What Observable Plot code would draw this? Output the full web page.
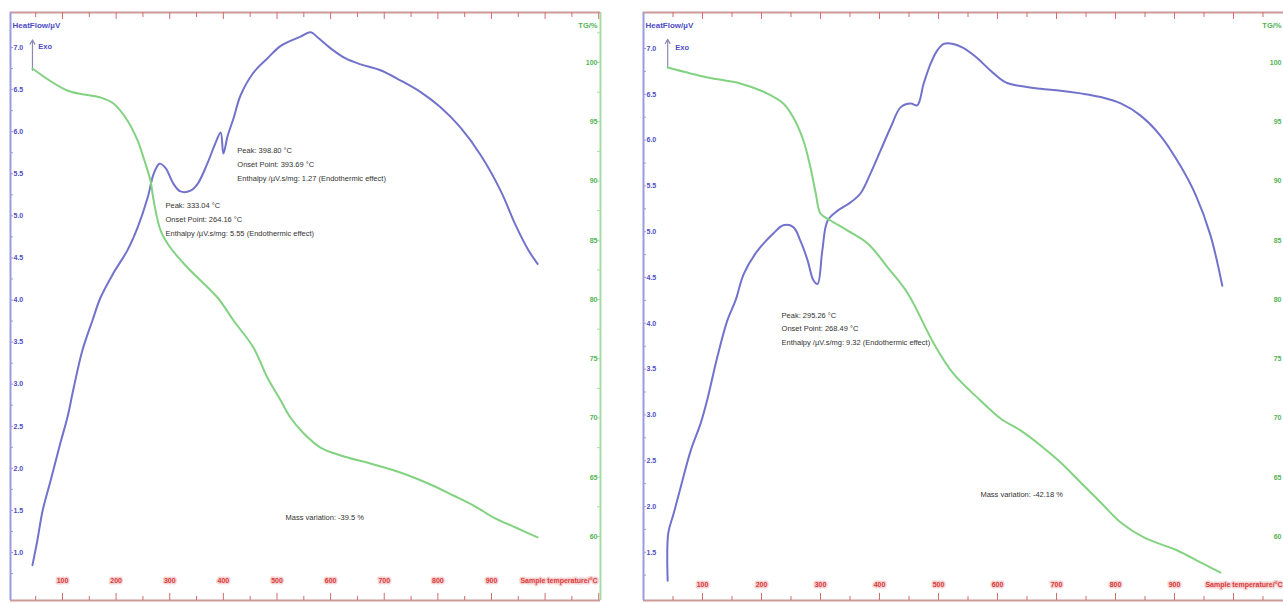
<!DOCTYPE html>
<html><head><meta charset="utf-8">
<script src="https://cdn.jsdelivr.net/npm/d3@7"></script>
<script src="https://cdn.jsdelivr.net/npm/@observablehq/plot@0.6"></script>
<style>
html,body{margin:0;padding:0;background:#fff;}
#wrap{position:relative;width:1283px;height:603px;overflow:hidden;background:#fff;}
#wrap svg{position:absolute;left:0;top:0;max-width:none;background:transparent;}
</style></head><body><div id="wrap"></div>
<script>
// ---------- data (temperature °C, heat flow µV, mass %) ----------
const L_DTA_T = [44,53,63,78,96,109,121,137,156,171,195,221,240,259,270,281,292,307,320,339,352,370,385,395,400,408,419,432,456,482,507,544,563,576,600,628,656,693,730,768,805,842,880,917,945,969,986];
const L_DTA_V = [0.85,1.14,1.50,1.86,2.30,2.60,2.96,3.40,3.76,4.03,4.32,4.59,4.86,5.22,5.50,5.62,5.57,5.38,5.29,5.30,5.38,5.62,5.86,5.99,5.74,5.95,6.16,6.43,6.70,6.87,7.02,7.13,7.18,7.12,6.99,6.87,6.80,6.73,6.61,6.47,6.29,6.05,5.72,5.30,4.89,4.59,4.43];
const L_TG_T = [44,109,171,195,221,240,251,264,270,283,301,333,389,419,456,482,507,525,550,581,619,674,730,786,829,870,904,945,986];
const L_TG_V = [99.49,97.64,97.05,96.54,95.11,93.42,91.98,90.04,88.35,85.82,84.39,82.70,80.17,78.23,75.95,73.42,71.48,70.04,68.69,67.51,66.84,66.16,65.40,64.39,63.46,62.53,61.60,60.76,59.92];
const R_DTA_T = [41,42,51,63,80,97,109,125,142,156,170,193,220,237,254,266,278,288,295,303,312,329,351,368,385,402,419,436,453,464,475,487,498,509,525,541,563,588,614,639,673,707,741,775,809,842,876,910,936,961,981];
const R_DTA_V = [1.19,1.71,1.92,2.21,2.61,2.91,3.19,3.63,4.03,4.25,4.54,4.79,4.98,5.07,5.05,4.90,4.69,4.47,4.43,4.79,5.12,5.23,5.32,5.42,5.64,5.89,6.14,6.36,6.40,6.38,6.62,6.84,6.98,7.05,7.05,7.01,6.91,6.76,6.63,6.59,6.56,6.54,6.51,6.47,6.40,6.27,6.05,5.72,5.40,4.96,4.41];
const R_TG_T = [41,109,164,210,237,254,271,283,292,300,317,346,380,414,448,492,525,571,605,639,673,707,741,775,809,848,905,944,978];
const R_TG_V = [99.58,98.73,98.23,97.38,96.54,95.36,93.42,91.14,88.95,87.26,86.67,85.82,84.73,82.70,80.51,76.29,73.76,71.48,69.96,68.95,67.68,66.24,64.56,62.87,61.18,59.92,58.82,57.81,56.96];

// ---------- tick labels ----------
const X_LABELS = [100,200,300,400,500,600,700,800,900];
const X_MAJOR = [100,200,300,400,500,600,700,800,900,1000,1100];
const X_MINOR = [50,150,250,350,450,550,650,750,850,950,1050];
const L_HF_TICKS = [7.0,6.5,6.0,5.5,5.0,4.5,4.0,3.5,3.0,2.5,2.0,1.5,1.0];
const R_HF_TICKS = [7.0,6.5,6.0,5.5,5.0,4.5,4.0,3.5,3.0,2.5,2.0,1.5];
const TG_TICKS = [100,95,90,85,80,75,70,65,60];

// ---------- texts ----------
const L_NOTES = [
  {t: 426, v: 5.86, text: "Peak: 398.80 °C\nOnset Point: 393.69 °C\nEnthalpy /µV.s/mg: 1.27 (Endothermic effect)"},
  {t: 292, v: 5.21, text: "Peak: 333.04 °C\nOnset Point: 264.16 °C\nEnthalpy /µV.s/mg: 5.55 (Endothermic effect)"}
];
const L_MASS = [{t: 516, v: 1.42, text: "Mass variation: -39.5 %"}];
const R_NOTES = [
  {t: 234, v: 4.17, text: "Peak: 295.26 °C\nOnset Point: 268.49 °C\nEnthalpy /µV.s/mg: 9.32 (Endothermic effect)"}
];
const R_MASS = [{t: 571, v: 2.13, text: "Mass variation: -42.18 %"}];
const L_EXO = {t: 44, v1: 6.73, v2: 7.09, tt: 55, tv: 7.01};
const R_EXO = {t: 41, v1: 6.79, v2: 7.10, tt: 54, tv: 7.01};

// ---------- panel layout ----------
const H = 603, MT = 12, MB = 3;
const LEFT = {width: 1283, mL: 10, mR: 683, tDom: [3.03, 1103.3], hfDom: [0.430, 7.416], tgDom: [54.60, 104.22],
  dta: [L_DTA_T, L_DTA_V], tg: [L_TG_T, L_TG_V], hfTicks: L_HF_TICKS, notes: L_NOTES, mass: L_MASS, exo: L_EXO,
  labelDy: -18, sampleDx: -3, tgDx: -3};
const RIGHT = {width: 1300, mL: 643, mR: 8, tDom: [0, 1100], hfDom: [0.974, 7.393], tgDom: [54.60, 104.22],
  dta: [R_DTA_T, R_DTA_V], tg: [R_TG_T, R_TG_V], hfTicks: R_HF_TICKS, notes: R_NOTES, mass: R_MASS, exo: R_EXO,
  labelDy: -14, sampleDx: -10, tgDx: -11};

const FONT = '"Liberation Sans", Arial, sans-serif';
const BLUE = "#7272cc", BLUE_AX = "#9b9be0", BLUE_TXT = "#4d4dc4";
const GREEN = "#82d282", GREEN_AX = "#a6dca6", GREEN_TXT = "#55b455";
const RED_AX = "#cc9a9a", RED_TICK = "#d46a6a", RED_TXT = "#d83a3a";

function zip(a, b) { return a.map((x, i) => ({t: x, v: b[i]})); }

function hfPlot(P) {
  const plotW = P.width - P.mL - P.mR, plotH = H - MT - MB;
  const hfMinor = [];
  P.hfTicks.forEach(d => { hfMinor.push(d); hfMinor.push(d - 0.25); });
  return Plot.plot({
    width: P.width, height: H, marginLeft: P.mL, marginRight: P.mR, marginTop: MT, marginBottom: MB,
    x: {domain: P.tDom, axis: null}, y: {domain: P.hfDom, axis: null},
    style: {fontFamily: FONT, background: "transparent", overflow: "visible"},
    marks: [
      Plot.ruleY([P.hfDom[1]], {stroke: RED_AX, strokeWidth: 2}),
      Plot.ruleY([P.hfDom[0]], {stroke: RED_AX, strokeWidth: 2}),
      Plot.ruleX([P.tDom[0]], {stroke: BLUE_AX, strokeWidth: 2}),
      Plot.ruleX(X_MAJOR, {x: d => d, stroke: RED_TICK, insetBottom: plotH - 7}),
      Plot.ruleX(X_MINOR, {x: d => d, stroke: RED_TICK, insetBottom: plotH - 5}),
      Plot.ruleX(X_MAJOR, {x: d => d, stroke: RED_TICK, insetTop: plotH - 7}),
      Plot.ruleX(X_MINOR, {x: d => d, stroke: RED_TICK, insetTop: plotH - 4}),
      Plot.text(X_LABELS, {x: d => d, frameAnchor: "bottom", dy: P.labelDy, text: d => String(d),
        fill: RED_TXT, stroke: "#f6d2d2", strokeWidth: 3, fontSize: 7, fontWeight: "bold"}),
      Plot.text(["Sample temperature/°C"], {frameAnchor: "bottom-right", dx: P.sampleDx, dy: P.labelDy, textAnchor: "end",
        fill: RED_TXT, stroke: "#f6d2d2", strokeWidth: 3, fontSize: 7, fontWeight: "bold"}),
      Plot.ruleY(hfMinor, {y: d => d, stroke: BLUE_AX, insetRight: plotW - 3}),
      Plot.text(P.hfTicks, {y: d => d, frameAnchor: "left", dx: 3, textAnchor: "start", text: d => d3.format(".1f")(d),
        fill: BLUE_TXT, fontSize: 7, fontWeight: "bold"}),
      Plot.text(["HeatFlow/µV"], {frameAnchor: "top-left", dx: 2, dy: 10, textAnchor: "start",
        fill: BLUE_TXT, fontSize: 8, fontWeight: "bold"}),
      Plot.arrow([P.exo], {x1: "t", x2: "t", y1: "v1", y2: "v2", stroke: "#8a8ab8", strokeWidth: 1.2, headLength: 6}),
      Plot.text([P.exo], {x: "tt", y: "tv", text: () => "Exo", textAnchor: "start", fill: BLUE_TXT, fontSize: 7.5, fontWeight: "bold"}),
      Plot.line(zip(P.dta[0], P.dta[1]), {x: "t", y: "v", stroke: BLUE, strokeWidth: 2, curve: "catmull-rom"}),
      Plot.text(P.notes, {x: "t", y: "v", text: "text", textAnchor: "start", lineAnchor: "top",
        lineHeight: 1.85, fill: "#333", fontSize: 7.5}),
      Plot.text(P.mass, {x: "t", y: "v", text: "text", textAnchor: "start", fill: "#333", fontSize: 7.5})
    ]
  });
}

function tgPlot(P) {
  const plotW = P.width - P.mL - P.mR;
  const tgMinor = [];
  TG_TICKS.forEach(d => { tgMinor.push(d); tgMinor.push(d + 2.5); });
  return Plot.plot({
    width: P.width, height: H, marginLeft: P.mL, marginRight: P.mR, marginTop: MT, marginBottom: MB,
    x: {domain: P.tDom, axis: null}, y: {domain: P.tgDom, axis: null},
    style: {fontFamily: FONT, background: "transparent", overflow: "visible"},
    marks: [
      Plot.ruleX([P.tDom[1]], {stroke: GREEN_AX, strokeWidth: 2}),
      Plot.ruleY(tgMinor, {y: d => d, stroke: GREEN_AX, insetLeft: plotW - 3}),
      Plot.text(TG_TICKS, {y: d => d, frameAnchor: "right", dx: P.tgDx, textAnchor: "end", text: d => String(d),
        fill: GREEN_TXT, fontSize: 7, fontWeight: "bold"}),
      Plot.text(["TG/%"], {frameAnchor: "top-right", dx: P.tgDx, dy: 10, textAnchor: "end",
        fill: GREEN_TXT, fontSize: 7.5, fontWeight: "bold"}),
      Plot.line(zip(P.tg[0], P.tg[1]), {x: "t", y: "v", stroke: GREEN, strokeWidth: 2, curve: "catmull-rom"})
    ]
  });
}

const wrap = document.getElementById("wrap");
[hfPlot(LEFT), tgPlot(LEFT), hfPlot(RIGHT), tgPlot(RIGHT)].forEach(svg => wrap.appendChild(svg));
</script></body></html>
